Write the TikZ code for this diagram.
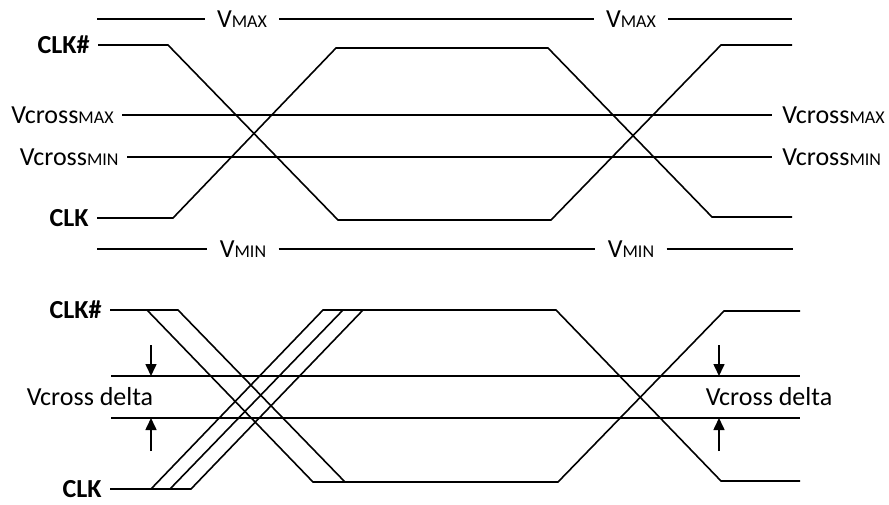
\documentclass[tikz,border=0pt]{standalone}
\usepackage{fontspec}
\setmainfont{Carlito}
\usetikzlibrary{arrows.meta}
\newcommand{\lvlsub}[1]{{\fontsize{9}{10}\selectfont #1}}

\begin{document}
\begin{tikzpicture} [
        x=0.5pt, y=-0.5pt,
        every node/.style = {font=\fontsize{13}{15}\selectfont, text=black},
        wave/.style = {draw, line width=0.8pt, line join=miter},
        level/.style = {draw, line width=0.8pt},
        signal name/.style = {font=\fontsize{13}{15}\selectfont\bfseries, inner xsep=4pt, anchor=east},
        level name/.style = {inner xsep=6pt, inner ysep=0pt},
        left name/.style = {inner xsep=4pt, anchor=east},
        right name/.style = {inner xsep=5pt, anchor=west},
        delta arrow/.style = {draw, line width=0.8pt, -{Triangle[length=6pt,width=5.5pt]}},
    ]
    \useasboundingbox (0,0) rectangle (889,504);

    % upper diagram, min and max levels
    \foreach \pos/\name/\sub in {
            {(242,19)/vmaxa/MAX}, {(631,19)/vmaxb/MAX}, {(243,249)/vmina/MIN}, {(631,249)/vminb/MIN}}
        \node[level name] (\name) at \pos {V\lvlsub{\sub}};
    \coordinate (vmax0) at (97,19);
    \coordinate (vmax3) at (792,19);
    \coordinate (vmin0) at (97,249);
    \coordinate (vmin3) at (793,249);
    \draw[level] (vmax0) -- (vmaxa.west) (vmaxa.east) -- (vmaxb.west) (vmaxb.east) -- (vmax3);
    \draw[level] (vmin0) -- (vmina.west) (vmina.east) -- (vminb.west) (vminb.east) -- (vmin3);

    % crossing levels
    \node[left name] (vcmaxl) at (122,115) {Vcross\lvlsub{MAX}};
    \node[right name] (vcmaxr) at (772,115) {Vcross\lvlsub{MAX}};
    \node[left name] (vcminl) at (127,157) {Vcross\lvlsub{MIN}};
    \node[right name] (vcminr) at (772,157) {Vcross\lvlsub{MIN}};
    \draw[level] (vcmaxl) -- (vcmaxr);
    \draw[level] (vcminl) -- (vcminr);

    % upper clock pair
    \node[signal name] (clkna) at (98,45) {CLK\#};
    \node[signal name] (clka) at (97,218) {CLK};
    \draw[wave] (clkna.east) -- (168,45) -- (338,220) -- (551,220) -- (721,45) -- (792,45);
    \draw[wave] (clka.east) -- (173,218) -- (336,48) -- (548,48) -- (712,217) -- (792,217);

    % lower clock pair
    \node[signal name] (clknb) at (110,310) {CLK\#};
    \node[signal name] (clkb) at (110,489) {CLK};
    \draw[wave] (clknb.east) -- (147,310) -- (313,482) -- (558,482) -- (724,311) -- (800,311);
    \draw[wave] (147,310) -- (178,310) -- (345,482);
    \draw[wave] (clkb.east) -- (151,489) -- (323,310) -- (556,310) -- (721,481) -- (800,481);
    \draw[wave] (151,489) -- (191,489) -- (363,310);
    \draw[wave] (170,489) -- (343,310);

    % vcross delta band
    \coordinate (dhia) at (111,376);
    \coordinate (dhib) at (800,376);
    \coordinate (dloa) at (111,418);
    \coordinate (dlob) at (800,418);
    \draw[level] (dhia) -- (dhib);
    \draw[level] (dloa) -- (dlob);
    \foreach \x/\side in {151/l, 719/r} {
        \coordinate (dn\side) at (\x,345);
        \coordinate (up\side) at (\x,451);
        \draw[delta arrow] (dn\side) -- (dn\side |- dhia);
        \draw[delta arrow] (up\side) -- (up\side |- dloa);
    }
    \node (deltal) at (90,397) {Vcross delta};
    \node (deltar) at (769,397) {Vcross delta};
\end{tikzpicture}
\end{document}
